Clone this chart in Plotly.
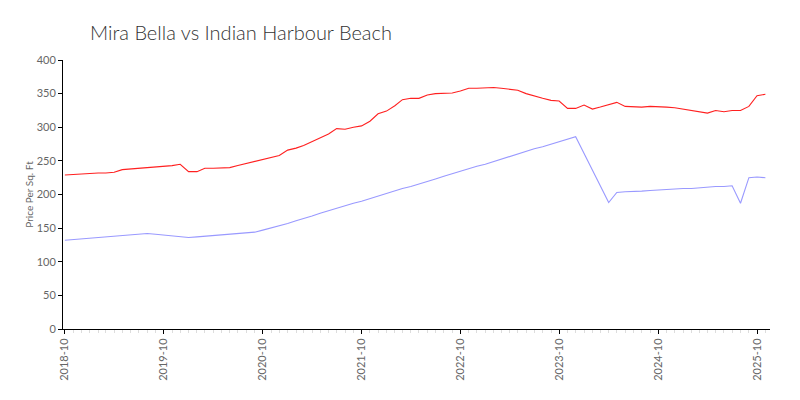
import plotly.graph_objects as go
import pandas as pd

red_dates = pd.date_range("2018-10-01", "2025-11-01", freq="MS").strftime("%Y-%m-%d").tolist()
red_values = [
    229, 230, 231, 231, 232, 232, 233, 237, 238, 239, 240, 241,   # 2018-10 .. 2019-09
    242, 243, 245, 234, 234, 239, 239, 239, 240, 243, 246, 250,   # 2019-10 .. 2020-09
    253, 255, 258, 266, 269, 273, 279, 285, 290, 298, 297, 300,   # 2020-10 .. 2021-09
    302, 309, 320, 324, 332, 341, 343, 343, 348, 350, 351, 351,   # 2021-10 .. 2022-09
    354, 358, 358, 359, 359, 358, 357, 355, 350, 346, 343, 340,   # 2022-10 .. 2023-09
    339, 328, 328, 333, 327, 330, 333, 337, 331, 330, 330, 331,   # 2023-10 .. 2024-09
    331, 330, 329, 327, 325, 324, 321, 325, 323, 325, 325, 331,   # 2024-10 .. 2025-09
    347, 349,                                                     # 2025-10 .. 2025-11
]

blue_dates = (
    pd.date_range("2018-10-01", "2023-12-01", freq="MS").strftime("%Y-%m-%d").tolist()
    + pd.date_range("2024-04-01", "2025-11-01", freq="MS").strftime("%Y-%m-%d").tolist()
)
blue_values = [
    132, 133, 134, 135, 136, 137, 138, 139, 140, 141, 142, 141,   # 2018-10 .. 2019-09
    140, 139, 138, 136, 137, 138, 139, 139, 141, 142, 143, 144,   # 2019-10 .. 2020-09
    147, 150, 153, 157, 161, 164, 168, 172, 176, 179, 183, 187,   # 2020-10 .. 2021-09
    190, 194, 198, 201, 205, 209, 212, 216, 220, 223, 227, 231,   # 2021-10 .. 2022-09
    234, 238, 242, 245, 249, 253, 256, 260, 264, 268, 271, 275,   # 2022-10 .. 2023-09
    279, 282, 286,                                                # 2023-10 .. 2023-12
    188, 203, 204, 204, 205, 206,                                 # 2024-04 .. 2024-09
    207, 207, 208, 209, 209, 210, 211, 212, 212, 213, 187, 225,   # 2024-10 .. 2025-09
    226, 225,                                                     # 2025-10 .. 2025-11
]

font_family = "Lato, 'Open Sans', sans-serif"

fig = go.Figure()
fig.add_trace(go.Scatter(x=red_dates, y=red_values, mode="lines",
                         line=dict(color="#ff2020", width=1.1), name="Mira Bella"))
fig.add_trace(go.Scatter(x=blue_dates, y=blue_values, mode="lines",
                         line=dict(color="#9999ff", width=1.1), name="Indian Harbour Beach"))

fig.update_layout(
    width=792, height=392,
    margin=dict(l=55, r=30, t=52, b=71),
    paper_bgcolor="white", plot_bgcolor="white",
    showlegend=False,
    font=dict(family=font_family, color="#666666", size=11),
    title=dict(text="Mira Bella vs Indian Harbour Beach", x=0.1035, xanchor="left",
               y=0.936, yanchor="middle",
               font=dict(family=font_family, size=20, color="#333333", weight=300)),
    xaxis=dict(
        type="date", automargin=False,
        range=["2018-09-24", "2025-11-18"],
        tick0="2018-10-01", dtick="M12", tickformat="%Y-%m",
        tickangle=-90,
        showgrid=False, zeroline=False,
        showline=True, linecolor="black", linewidth=1,
        ticks="outside", ticklen=4, tickcolor="black",
        tickfont=dict(size=11, color="#666666"),
        minor=dict(dtick="M1", tick0="2018-10-01", ticks="outside", ticklen=3,
                   tickcolor="#dddddd", showgrid=False),
    ),
    yaxis=dict(
        automargin=False,
        range=[0, 400], dtick=50,
        showgrid=False, zeroline=False,
        showline=True, linecolor="black", linewidth=1,
        ticks="outside", ticklen=4, tickcolor="black",
        tickfont=dict(size=11, color="#666666"),
        title=dict(text="Price Per Sq. Ft", font=dict(size=10, color="#666666"), standoff=1),
    ),
)

fig.write_html("out.html")
